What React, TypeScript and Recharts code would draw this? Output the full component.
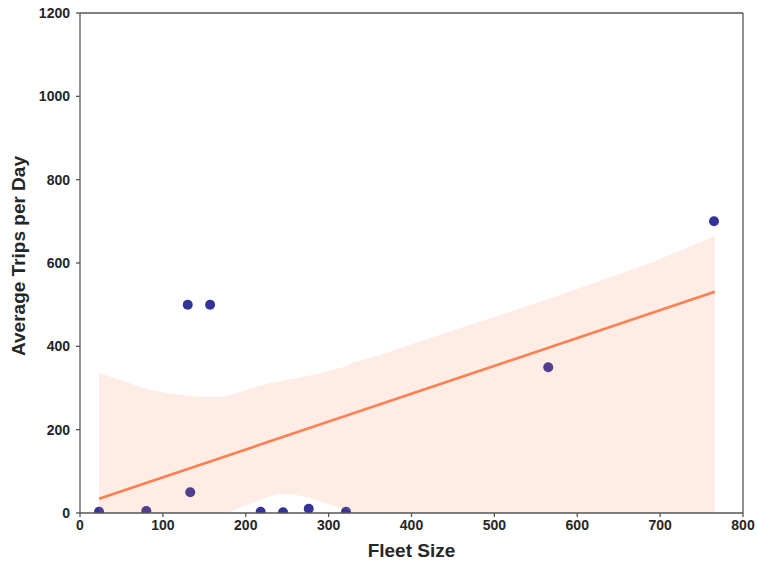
import {
  Area,
  ComposedChart,
  Line,
  ReferenceLine,
  Scatter,
  XAxis,
  YAxis,
} from 'recharts';

// fleet size vs. average daily trips, one point per operator
const fleetSize = [23, 80, 130, 157, 133, 218, 245, 276, 321, 565, 765];
const tripsPerDay = [3, 5, 500, 500, 50, 3, 2, 10, 3, 350, 700];

// fitted regression line (end points)
const fitX = [23, 766];
const fitY = [34, 531];

// confidence band around the fit
const bandX = [23, 50, 84, 109, 141, 172, 177, 201, 217, 237, 257, 280, 298, 322, 330, 362, 400, 450, 507, 567, 620, 692, 766];
const bandLower = [0, 0, 0, 0, 0, 0, 0, 19, 31, 45, 45, 35, 23, 7, 0, 0, 0, 0, 0, 0, 0, 0, 0];
const bandUpper = [336, 318, 295, 287, 279, 279, 281, 295, 306, 315, 322, 331, 340, 352, 361, 379, 405, 438, 475, 515, 552, 603, 665];

const xTicks = [0, 100, 200, 300, 400, 500, 600, 700, 800];
const yTicks = [0, 200, 400, 600, 800, 1000, 1200];

const points = fleetSize.map((x, i) => ({ x, y: tripsPerDay[i] }));
const fit = fitX.map((x, i) => ({ x, fit: fitY[i] }));
const band = bandX.map((x, i) => ({ x, range: [bandLower[i], bandUpper[i]] }));

const FONT = '"Liberation Sans", Arial, sans-serif';
const TEXT = '#262626';
const SPINE = '#555555';
const tickStyle = { fill: TEXT, fontSize: 14, fontWeight: 700, fontFamily: FONT };
const titleStyle = { fill: TEXT, fontSize: 19, fontWeight: 700, fontFamily: FONT };

export default function App() {
  return (
    <div style={{ position: 'absolute', left: 0, top: 0, background: '#fff' }}>
      <ComposedChart
        width={757}
        height={563}
        margin={{ top: 13, right: 14, bottom: 0, left: 0 }}
      >
        <XAxis
          type="number"
          dataKey="x"
          domain={[0, 800]}
          ticks={xTicks}
          allowDataOverflow
          height={50}
          tick={tickStyle}
          tickSize={4}
          tickMargin={3}
          stroke={SPINE}
          strokeWidth={1.3}
          label={({ viewBox }: any) => (
            <text
              x={viewBox.x + viewBox.width / 2}
              y={557}
              textAnchor="middle"
              style={titleStyle}
            >
              Fleet Size
            </text>
          )}
        />
        <YAxis
          type="number"
          domain={[0, 1200]}
          ticks={yTicks}
          allowDataOverflow
          width={80}
          tick={tickStyle}
          tickSize={4}
          tickMargin={6}
          stroke={SPINE}
          strokeWidth={1.3}
          label={({ viewBox }: any) => {
            const cy = viewBox.y + viewBox.height / 2 - 7;
            return (
              <text
                x={25}
                y={cy}
                textAnchor="middle"
                transform={`rotate(-90, 25, ${cy})`}
                style={titleStyle}
              >
                Average Trips per Day
              </text>
            );
          }}
        />
        <ReferenceLine y={1200} stroke={SPINE} strokeWidth={1.3} />
        <ReferenceLine x={800} stroke={SPINE} strokeWidth={1.3} />
        {/* points sit underneath the band, so it tints the ones it covers */}
        <Scatter
          data={points}
          dataKey="y"
          zIndex={50}
          isAnimationActive={false}
          shape={(p: any) => (
            <circle cx={p.cx} cy={p.cy} r={5} fill="#000080" fillOpacity={0.8} />
          )}
        />
        <Area
          data={band}
          dataKey="range"
          type="linear"
          stroke="none"
          fill="#ff7f50"
          fillOpacity={0.15}
          zIndex={100}
          isAnimationActive={false}
        />
        <Line
          data={fit}
          dataKey="fit"
          type="linear"
          stroke="#ff7f50"
          strokeWidth={2.6}
          dot={false}
          zIndex={400}
          isAnimationActive={false}
        />
      </ComposedChart>
    </div>
  );
}
